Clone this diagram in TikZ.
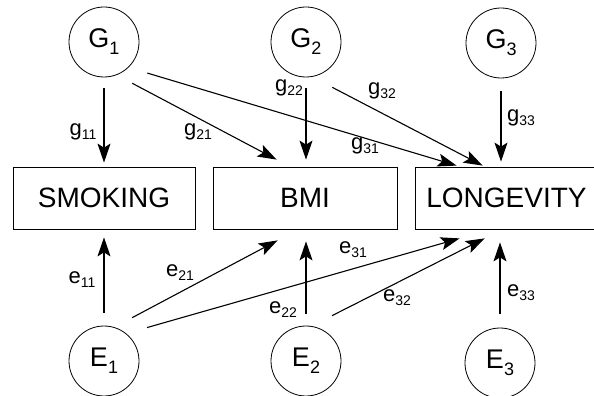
\documentclass[tikz,border=0pt]{standalone}
\usepackage{fontspec}
\setmainfont{Liberation Sans}
\usetikzlibrary{arrows.meta}

\newcommand{\lab}[2]{#1\raisebox{-4pt}{\fontsize{14}{14}\selectfont #2}}
\newcommand{\fac}[2]{#1\raisebox{-7pt}{\fontsize{18}{18}\selectfont #2}}

\tikzset{
  var/.style={circle,draw,line width=0.8pt,minimum size=70pt,inner sep=0pt,font=\fontsize{27}{27}\selectfont},
  trait/.style={rectangle,draw,line width=0.8pt,minimum width=182pt,minimum height=62pt,inner sep=0pt,font=\fontsize{28}{28}\selectfont},
  arr/.style={-{Stealth[length=19pt,width=13pt,inset=4pt]},line width=1.1pt},
  coef/.style={inner sep=0pt,font=\fontsize{22}{22}\selectfont}
}

\begin{document}
\begin{tikzpicture}[x=1pt,y=1pt]
    \useasboundingbox (0,0) rectangle (594,396);
    % genes and environment
    \node[var] (G1) at (104,354) {\fac{G}{1}};
    \node[var] (G2) at (306,354) {\fac{G}{2}};
    \node[var] (G3) at (501,353) {\fac{G}{3}};
    \node[var] (E1) at (104,35) {\fac{E}{1}};
    \node[var] (E2) at (306,35) {\fac{E}{2}};
    \node[var] (E3) at (500,33) {\fac{E}{3}};
    % traits
    \node[trait] (smoking) at (104,198) {SMOKING};
    \node[trait,minimum width=184pt] (bmi) at (305,198) {BMI};
    \node[trait,minimum width=183pt] (longevity) at (506.5,198) {LONGEVITY};
    % genetic paths
    \draw[arr,shorten <=11pt] (G1.south) -- ([yshift=4pt]G1.south |- smoking.north);
    \draw[arr,shorten <=17.6pt] (G1.-69) -- ([shift={(64pt,7pt)}]bmi.north west);
    \draw[arr,shorten <=19.6pt] (G1.-46) -- ([shift={(42pt,1pt)}]longevity.north west);
    \draw[arr,shorten <=11pt] (G2.south) -- ([yshift=7pt]G2.south |- bmi.north);
    \draw[arr,shorten <=22.7pt] (G2.-80) -- ([shift={(68pt,1pt)}]longevity.north west);
    \draw[arr,shorten <=13pt] (G3.south) -- ([yshift=5pt]G3.south |- longevity.north);
    % environmental paths
    \draw[arr,shorten <=13pt] (E1.north) -- ([yshift=-8pt]E1.north |- smoking.south);
    \draw[arr,shorten <=20.1pt] (E1.73) -- ([shift={(65pt,-11pt)}]bmi.south west);
    \draw[arr,shorten <=21.6pt] (E1.51) -- ([shift={(45pt,-9pt)}]longevity.south west);
    \draw[arr,shorten <=12pt] (E2.north) -- ([yshift=-12pt]E2.north |- bmi.south);
    \draw[arr,shorten <=23pt] (E2.81) -- ([shift={(70pt,-9pt)}]longevity.south west);
    \draw[arr,shorten <=14pt] (E3.north) -- ([yshift=-13pt]E3.north |- longevity.south);
    % coefficients
    \node[coef] (g11) at (83,264) {\lab{g}{11}};
    \node[coef] (g21) at (198,264) {\lab{g}{21}};
    \node[coef] (g22) at (289,308) {\lab{g}{22}};
    \node[coef] (g32) at (382,305) {\lab{g}{32}};
    \node[coef] (g31) at (365,250) {\lab{g}{31}};
    \node[coef] (g33) at (521,278) {\lab{g}{33}};
    \node[coef] (e11) at (82,116) {\lab{e}{11}};
    \node[coef] (e21) at (180,123) {\lab{e}{21}};
    \node[coef] (e22) at (283,86) {\lab{e}{22}};
    \node[coef] (e31) at (353,146) {\lab{e}{31}};
    \node[coef] (e32) at (397,98) {\lab{e}{32}};
    \node[coef] (e33) at (521,103) {\lab{e}{33}};
\end{tikzpicture}
\end{document}
